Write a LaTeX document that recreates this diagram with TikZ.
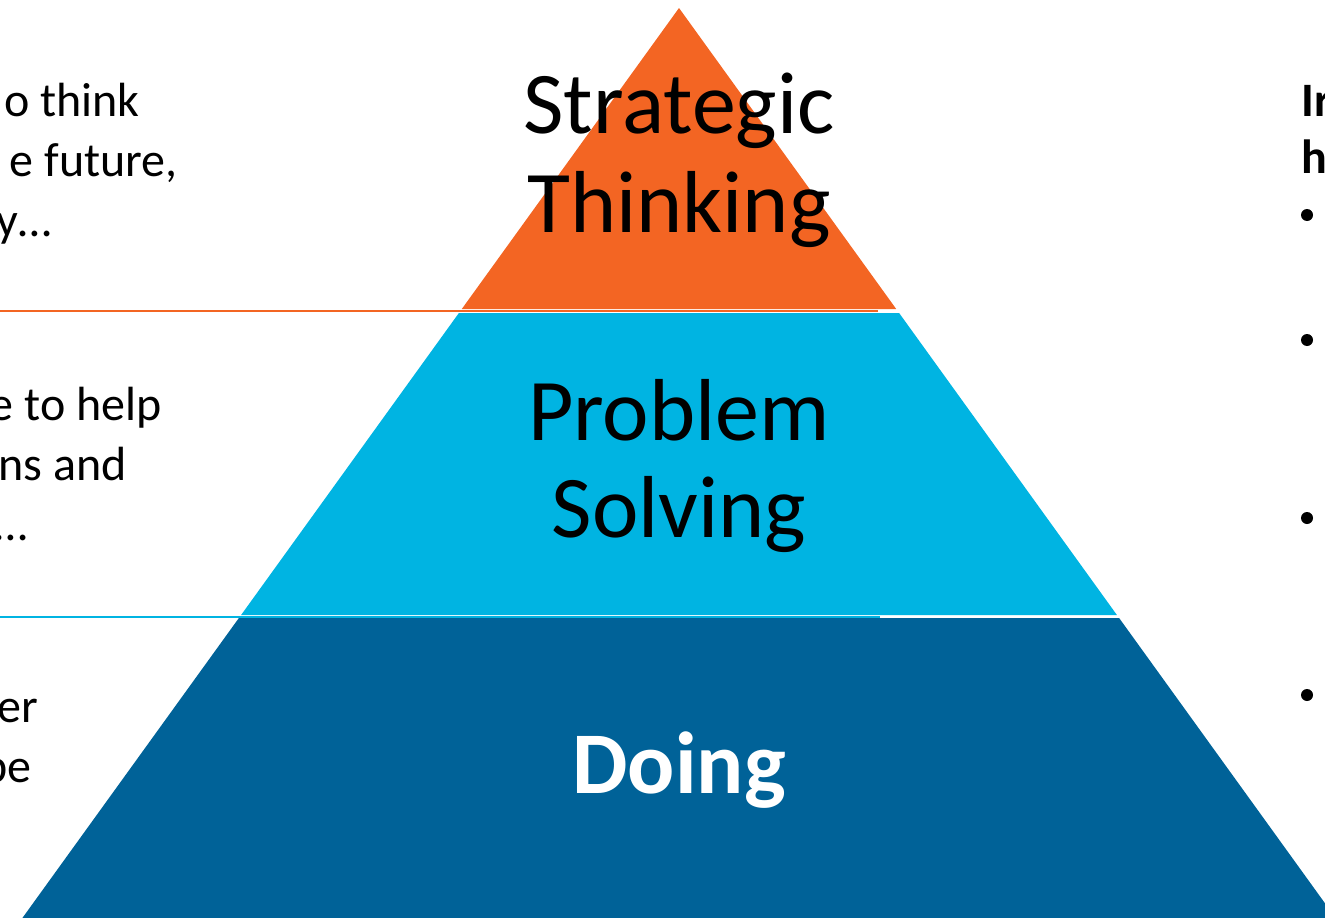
\documentclass[tikz,border=0pt]{standalone}
\usepackage{fontspec}
\setmainfont{Carlito}
\definecolor{porange}{RGB}{243,101,35}
\definecolor{pcyan}{RGB}{0,180,226}
\definecolor{pdark}{RGB}{0,98,152}
\tikzset{
  big/.style={inner sep=0pt, anchor=base, font=\fontsize{88}{99}\selectfont},
  side/.style={inner sep=0pt, anchor=base east, font=\fontsize{48}{60}\selectfont},
  sideR/.style={inner sep=0pt, anchor=base west, font=\bfseries\fontsize{48}{60}\selectfont},
  bullet/.style={circle, fill=black, inner sep=0pt, minimum size=12pt},
  sepline/.style={line width=2.2pt},
}
\begin{document}
\begin{tikzpicture}[x=1pt,y=-1pt]
\useasboundingbox (0,0) rectangle (1325,918);
\clip (0,0) rectangle (1325,918);
% pyramid bands
\fill[porange] (679,8) -- (896.2,309) -- (461.8,309) -- cycle;
\fill[pcyan] (458.9,313) -- (899.1,313) -- (1116.9,615) -- (241.1,615) -- cycle;
\fill[pdark] (238.9,618) -- (1119.1,618) -- (1335.6,918) -- (22.4,918) -- cycle;
% separator lines
\coordinate (l1a) at (0,311.3);
\coordinate (l1b) at (878,311.3);
\coordinate (l2a) at (0,617.3);
\coordinate (l2b) at (880,617.3);
\draw[sepline, draw=porange] (l1a) -- (l1b);
\draw[sepline, draw=pcyan] (l2a) -- (l2b);
% band labels
\node[big] (st1) at (679,133) {Strategic};
\node[big] (st2) at (679,232) {Thinking};
\node[big] (ps1) at (679,440) {Problem};
\node[big] (ps2) at (679,537) {Solving};
\node[big, text=white, font=\bfseries\fontsize{88}{99}\selectfont] (do) at (679,793) {Doing};
% left texts (cut by the edge)
\node[side] (a1) at (140,116) {o think};
\node[side] (a2) at (178,176) {e future,};
\node[side] (a3) at (52,236) {y…};
\node[side] (b1) at (162,420) {e to help};
\node[side] (b2) at (127,480) {ns and};
\node[side] (b3) at (28,540) {…};
\node[side] (c1) at (38,722) {er};
\node[side] (c2) at (32,782) {be};
% right texts
\node[sideR] (r1) at (1301,116) {Ir};
\node[sideR] (r2) at (1301,173) {h};
\node[bullet] (p1) at (1307,215) {};
\node[bullet] (p2) at (1307,340) {};
\node[bullet] (p3) at (1307,518) {};
\node[bullet] (p4) at (1307,695) {};
\end{tikzpicture}
\end{document}
